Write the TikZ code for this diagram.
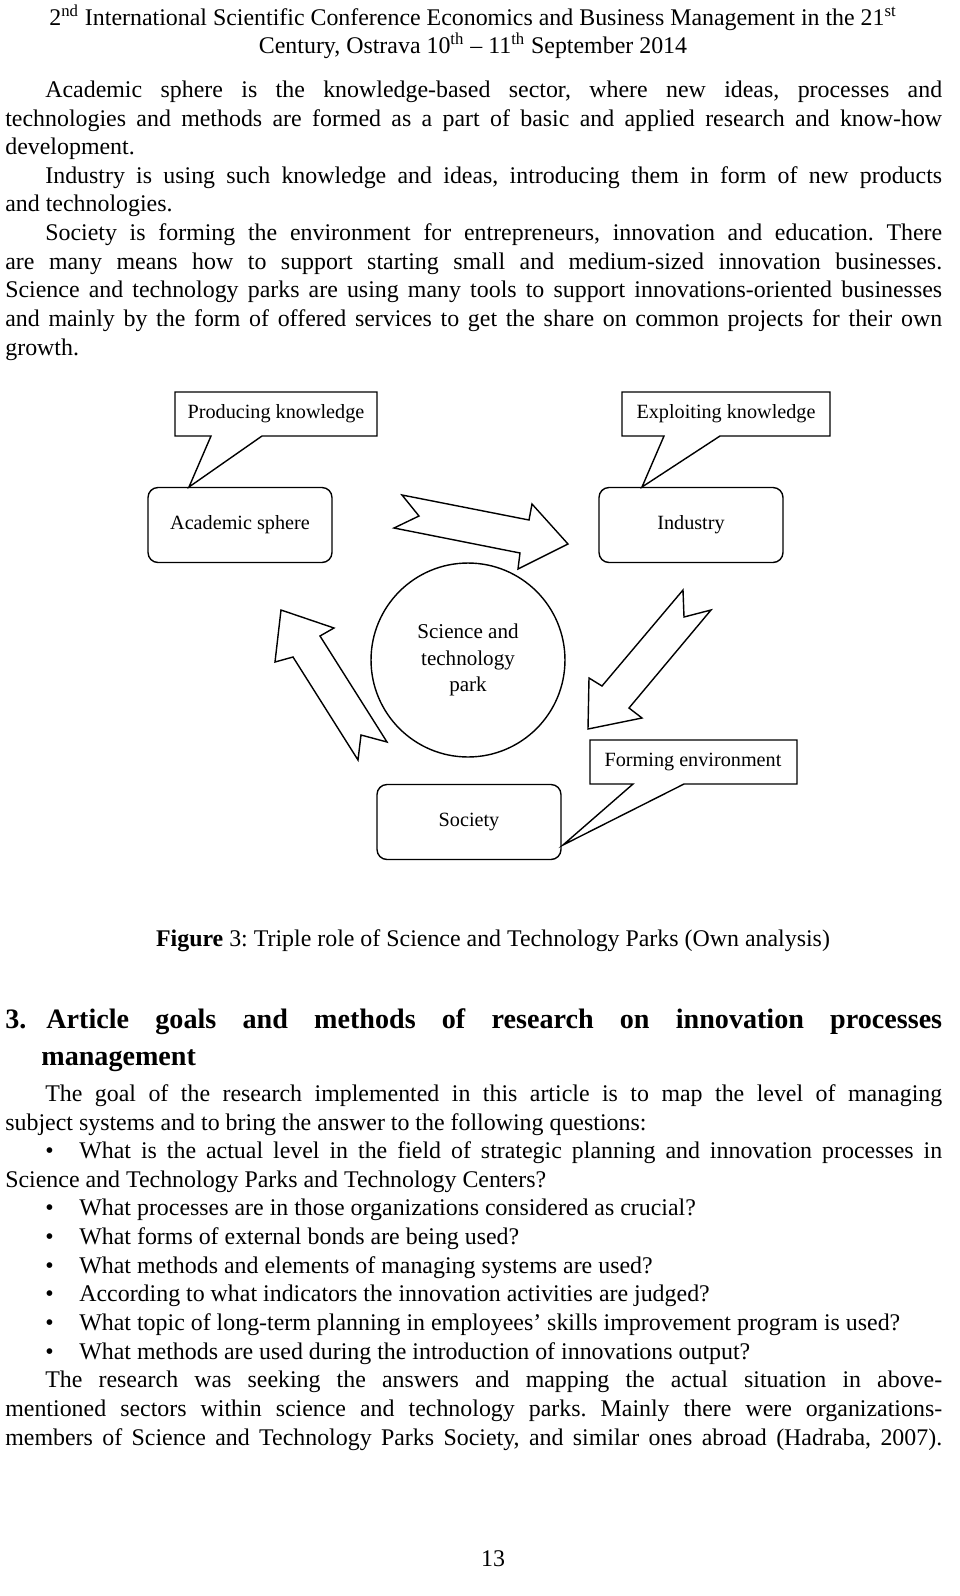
\documentclass[tikz,border=0pt]{standalone}
\usepackage{fontspec}
\setmainfont{Liberation Serif}
\frenchspacing
\tikzset{
  body/.style={font=\fontsize{13.6}{16}\selectfont, inner sep=0pt, anchor=west},
  rbox/.style={draw, thick, rounded corners=0.2cm, minimum width=3.68cm, minimum height=1.5cm, font=\fontsize{11.5}{13}\selectfont},
  lbl/.style={font=\fontsize{11.5}{13}\selectfont, inner sep=0pt},
  callout/.style={draw, thick, fill=white},
  blockarrow/.style={draw, thick, fill=white, line join=miter}
}
% justified single lines
\newcommand\jfull[1]{\makebox[18.74cm][s]{#1}}
\newcommand\jind[1]{\makebox[17.94cm][s]{#1}}
\newcommand\jbul[1]{\makebox[17.26cm][s]{#1}}
\begin{document}
\begin{tikzpicture}[x=0.02cm,y=-0.02cm]
\useasboundingbox[fill=white] (0,0) rectangle (960,1596);
% header
\node[font=\fontsize{13.6}{16}\selectfont] (head1) at (473,18) {2\textsuperscript{nd} International Scientific Conference Economics and Business Management in the 21\textsuperscript{st}};
\node[font=\fontsize{13.6}{16}\selectfont] (head2) at (473,46) {Century, Ostrava 10\textsuperscript{th} -- 11\textsuperscript{th} September 2014};
% first paragraphs
\node[body] (p1) at (45,92) {\jind{Academic sphere is the knowledge-based sector, where new ideas, processes and}};
\node[body] (p2) at (5,121) {\jfull{technologies and methods are formed as a part of basic and applied research and know-how}};
\node[body] (p3) at (5,149) {development.};
\node[body] (p4) at (45,178) {\jind{Industry is using such knowledge and ideas, introducing them in form of new products}};
\node[body] (p5) at (5,206) {and technologies.};
\node[body] (p6) at (45,235) {\jind{Society is forming the environment for entrepreneurs, innovation and education. There}};
\node[body] (p7) at (5,264) {\jfull{are many means how to support starting small and medium-sized innovation businesses.}};
\node[body] (p8) at (5,292) {\jfull{Science and technology parks are using many tools to support innovations-oriented businesses}};
\node[body] (p9) at (5,321) {\jfull{and mainly by the form of offered services to get the share on common projects for their own}};
\node[body] (p10) at (5,350) {growth.};
% diagram
\draw[callout] (175,392) -- (377,392) -- (377,436) -- (262,436) -- (189,487) -- (211,436) -- (175,436) -- cycle;
\node[lbl] (prod) at (276,414) {Producing knowledge};
\draw[callout] (622,392) -- (830,392) -- (830,436) -- (720,436) -- (642,487) -- (664,436) -- (622,436) -- cycle;
\node[lbl] (expl) at (726,414) {Exploiting knowledge};
\node[rbox] (acad) at (240,525) {Academic sphere};
\node[rbox] (ind) at (691,525) {Industry};
\node[draw, thick, circle, minimum size=3.88cm, align=center, font=\fontsize{12}{15}\selectfont] (park) at (468,660) {Science and\\technology\\park};
\node[rbox] (soc) at (469,822) {Society};
\draw[callout] (590,740) -- (797,740) -- (797,784) -- (684,784) -- (563,845) -- (633,784) -- (590,784) -- cycle;
\node[lbl] (form) at (693,762) {Forming environment};
\draw[blockarrow] (402,495) -- (529,520) -- (532,504) -- (568,544) -- (518,569) -- (520,553) -- (394,528) -- (419,516) -- cycle;
\draw[blockarrow] (683,590) -- (684,617) -- (711,610) -- (629,708) -- (642,718) -- (588,729) -- (589,678) -- (602,686) -- cycle;
\draw[blockarrow] (281,610) -- (334,628) -- (320,636) -- (387,742) -- (361,735) -- (358,760) -- (293,657) -- (275,662) -- cycle;
% caption
\node[font=\fontsize{13.6}{16}\selectfont] (cap) at (493,941) {\textbf{Figure} 3: Triple role of Science and Technology Parks (Own analysis)};
% section
\node[body, font=\bfseries\fontsize{16}{19}\selectfont] (sec1) at (5,1022) {\jfull{3.\hspace{0.4cm}Article goals and methods of research on innovation processes}};
\node[body, font=\bfseries\fontsize{16}{19}\selectfont] (sec2) at (41,1061) {management};
\node[body] (q1) at (45,1096) {\jind{The goal of the research implemented in this article is to map the level of managing}};
\node[body] (q2) at (5,1125) {subject systems and to bring the answer to the following questions:};
\foreach \yy in {1153,1210,1239,1268,1296,1325,1354}
  \node[body] at (45,\yy) {\textbullet};
\node[body] (b1) at (79,1153) {\jbul{What is the actual level in the field of strategic planning and innovation processes in}};
\node[body] (b1b) at (5,1182) {Science and Technology Parks and Technology Centers?};
\node[body] (b2) at (79,1210) {What processes are in those organizations considered as crucial?};
\node[body] (b3) at (79,1239) {What forms of external bonds are being used?};
\node[body] (b4) at (79,1268) {What methods and elements of managing systems are used?};
\node[body] (b5) at (79,1296) {According to what indicators the innovation activities are judged?};
\node[body] (b6) at (79,1325) {What topic of long-term planning in employees’ skills improvement program is used?};
\node[body] (b7) at (79,1354) {What methods are used during the introduction of innovations output?};
\node[body] (r1) at (45,1382) {\jind{The research was seeking the answers and mapping the actual situation in above-}};
\node[body] (r2) at (5,1411) {\jfull{mentioned sectors within science and technology parks. Mainly there were organizations-}};
\node[body] (r3) at (5,1440) {\jfull{members of Science and Technology Parks Society, and similar ones abroad (Hadraba, 2007).}};
\node[font=\fontsize{13.6}{16}\selectfont] (pnum) at (493,1559) {13};
\end{tikzpicture}
\end{document}
